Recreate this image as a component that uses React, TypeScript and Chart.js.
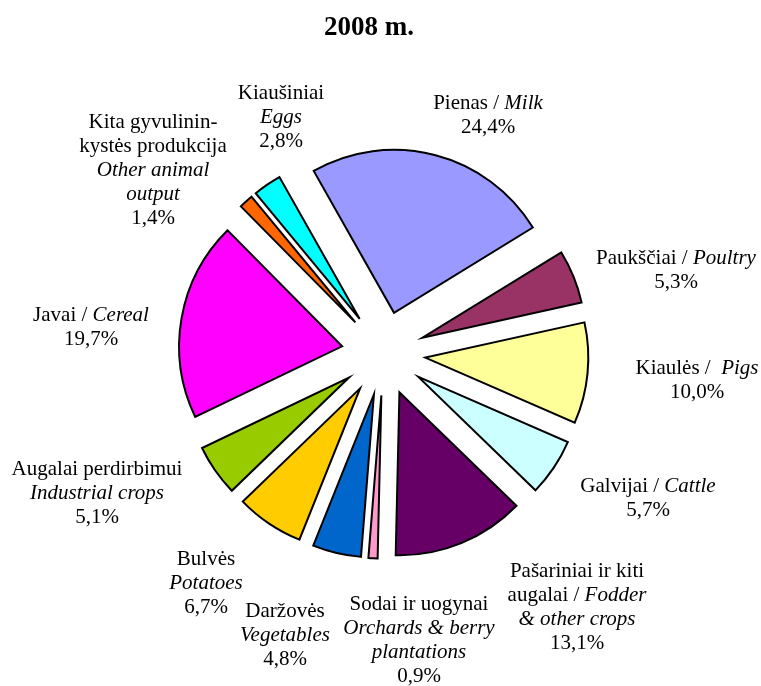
import React, { useEffect, useRef } from "react";
import { Chart, registerables } from "chart.js";

Chart.register(...registerables);

// ---------------- DATA ----------------
const TITLE = "2008 m.";

const CATEGORIES = [
  "Pienas / Milk",
  "Paukščiai / Poultry",
  "Kiaulės / Pigs",
  "Galvijai / Cattle",
  "Pašariniai ir kiti augalai / Fodder & other crops",
  "Sodai ir uogynai / Orchards & berry plantations",
  "Daržovės / Vegetables",
  "Bulvės / Potatoes",
  "Augalai perdirbimui / Industrial crops",
  "Javai / Cereal",
  "Kita gyvulininkystės produkcija / Other animal output",
  "Kiaušiniai / Eggs",
];

const VALUES = [24.4, 5.3, 10.0, 5.7, 13.1, 0.9, 4.8, 6.7, 5.1, 19.7, 1.4, 2.8];

// label text lines: each line is a list of [text, italic] segments
type Seg = [string, boolean];
const LABEL_LINES: Seg[][][] = [
  [[["Pienas / ", false], ["Milk", true]]],
  [[["Paukščiai / ", false], ["Poultry", true]]],
  [[["Kiaulės /  ", false], ["Pigs", true]]],
  [[["Galvijai / ", false], ["Cattle", true]]],
  [
    [["Pašariniai ir kiti", false]],
    [["augalai / ", false], ["Fodder", true]],
    [["& other crops", true]],
  ],
  [
    [["Sodai ir uogynai", false]],
    [["Orchards & berry", true]],
    [["plantations", true]],
  ],
  [[["Daržovės", false]], [["Vegetables", true]]],
  [[["Bulvės", false]], [["Potatoes", true]]],
  [[["Augalai perdirbimui", false]], [["Industrial crops", true]]],
  [[["Javai / ", false], ["Cereal", true]]],
  [
    [["Kita gyvulinin-", false]],
    [["kystės produkcija", false]],
    [["Other animal", true]],
    [["output", true]],
  ],
  [[["Kiaušiniai", false]], [["Eggs", true]]],
];

// ---------------- STYLE / LAYOUT ----------------
const COLORS = [
  "#9999FF",
  "#993366",
  "#FFFF99",
  "#CCFFFF",
  "#660066",
  "#FF99CC",
  "#0066CC",
  "#FFCC00",
  "#99CC00",
  "#FF00FF",
  "#FF6600",
  "#00FFFF",
];

const W = 761;
const H = 686;
const CX = 383.5;
const CY = 353.5;
const RADIUS = 163;
const EXPLODE = 42;
const ROTATION = -29.5;
const FONT_FAMILY = '"Liberation Serif", "Times New Roman", serif';
const LABEL_SIZE = 21;
const LINE_H = 24;

// label anchor (centre x, first baseline) relative to the pie centre
const LABEL_OFFSETS: [number, number][] = [
  [104.5, -244.5],
  [292.5, -89.5],
  [313.5, 20.5],
  [264.5, 138.5],
  [193.5, 223.5],
  [35.5, 256.5],
  [-98.5, 263.5],
  [-177.5, 211.5],
  [-286.5, 121.5],
  [-292.5, -32.5],
  [-230.5, -225.5],
  [-102.5, -254.5],
];

const fmtPct = (v: number) => v.toFixed(1).replace(".", ",") + "%";

const explodePlugin = {
  id: "explodeDraw",
  beforeDatasetDraw(chart: any, args: any) {
    const ctx = chart.ctx;
    const meta = args.meta;
    meta.data.forEach((arc: any) => {
      const { startAngle, endAngle } = arc.getProps(["startAngle", "endAngle"]);
      const mid = (startAngle + endAngle) / 2;
      ctx.save();
      ctx.translate(Math.cos(mid) * EXPLODE, Math.sin(mid) * EXPLODE);
      arc.draw(ctx);
      ctx.restore();
    });
    return false;
  },
};

const labelsPlugin = {
  id: "pieLabels",
  afterDraw(chart: any) {
    const ctx = chart.ctx;
    const meta = chart.getDatasetMeta(0);
    const cx = meta.data[0].x;
    const cy = meta.data[0].y;
    ctx.save();
    ctx.fillStyle = "#000";
    ctx.textAlign = "left";
    ctx.textBaseline = "alphabetic";

    // title
    ctx.font = `bold 27px ${FONT_FAMILY}`;
    const tw = ctx.measureText(TITLE).width;
    ctx.fillText(TITLE, cx - 14.5 - tw / 2, cy - 318.5);

    const fontFor = (it: boolean) => `${it ? "italic " : ""}${LABEL_SIZE}px ${FONT_FAMILY}`;

    VALUES.forEach((v, i) => {
      const lines: Seg[][] = [...LABEL_LINES[i], [[fmtPct(v), false]]];
      const [dx, dy] = LABEL_OFFSETS[i];
      const ax = cx + dx;
      let by = cy + dy;
      lines.forEach((line) => {
        let total = 0;
        const widths = line.map(([t, it]) => {
          ctx.font = fontFor(it);
          const w = ctx.measureText(t).width;
          total += w;
          return w;
        });
        let x = ax - total / 2;
        line.forEach(([t, it], k) => {
          ctx.font = fontFor(it);
          ctx.fillText(t, x, by);
          x += widths[k];
        });
        by += LINE_H;
      });
    });
    ctx.restore();
  },
};

export default function App() {
  const ref = useRef<HTMLCanvasElement | null>(null);

  useEffect(() => {
    if (!ref.current) return;
    const areaHalf = 200;
    const chart = new Chart(ref.current, {
      type: "pie",
      data: {
        labels: CATEGORIES,
        datasets: [
          {
            data: VALUES,
            backgroundColor: COLORS,
            borderColor: "#000000",
            borderWidth: 2,
            borderJoinStyle: "miter",
            hoverOffset: 0,
          } as any,
        ],
      },
      options: {
        responsive: false,
        animation: false,
        devicePixelRatio: 1,
        rotation: ROTATION,
        radius: RADIUS,
        layout: {
          padding: {
            left: CX - areaHalf,
            right: W - (CX + areaHalf),
            top: CY - areaHalf,
            bottom: H - (CY + areaHalf),
          },
        },
        plugins: {
          legend: { display: false },
          title: { display: false },
          tooltip: { enabled: false },
        },
        events: [],
      } as any,
      plugins: [explodePlugin, labelsPlugin],
    });
    return () => chart.destroy();
  }, []);

  return (
    <div style={{ position: "fixed", left: 0, top: 0, width: W, height: H, background: "#fff" }}>
      <canvas ref={ref} width={W} height={H} style={{ width: W, height: H, display: "block" }} />
    </div>
  );
}
